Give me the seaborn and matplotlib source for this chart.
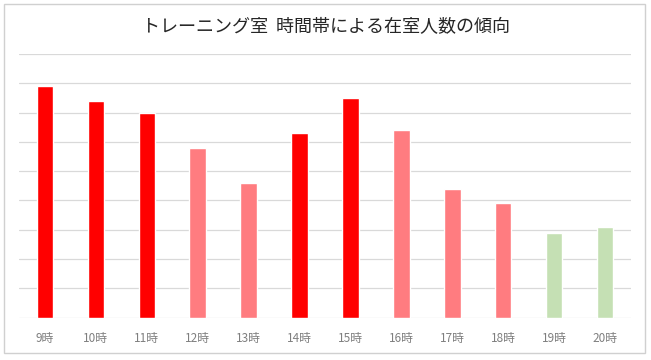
import matplotlib
matplotlib.use('Agg')
import matplotlib.pyplot as plt
import seaborn as sns
import pandas as pd
from matplotlib.patches import Rectangle

hours = ['9時', '10時', '11時', '12時', '13時', '14時', '15時', '16時', '17時', '18時', '19時', '20時']
people = [39.5, 37, 35, 29, 23, 31.5, 37.5, 32, 22, 19.5, 14.5, 15.5]
bar_colors = ['#FF0000', '#FF0000', '#FF0000', '#FF7C80', '#FF7C80', '#FF0000',
              '#FF0000', '#FF7C80', '#FF7C80', '#FF7C80', '#C5E0B4', '#C5E0B4']
title = 'トレーニング室  時間帯による在室人数の傾向'

sns.set_style('white')
plt.rcParams['font.family'] = ['Noto Sans CJK JP', 'DejaVu Sans']

df = pd.DataFrame({'hour': hours, 'people': people})

fig = plt.figure(figsize=(6.51, 3.6), dpi=100)
ax = fig.add_axes([0.0297, 0.1175, 0.9391, 0.7325])

sns.barplot(data=df, x='hour', y='people', hue='hour', palette=bar_colors,
            width=0.32, legend=False, ax=ax, saturation=1)

ax.set_ylim(0, 45)
ax.set_xlim(-0.5, len(hours) - 0.5)
ax.set_yticks(range(0, 46, 5))
ax.yaxis.grid(True, color='#D9D9D9', linewidth=0.9)
ax.set_axisbelow(True)
ax.tick_params(axis='y', left=False, labelleft=False)
ax.tick_params(axis='x', bottom=False, labelsize=8.5, labelcolor='#7F7F7F', pad=7)
ax.set_xlabel('')
ax.set_ylabel('')
for s in ax.spines.values():
    s.set_visible(False)

fig.text(0.5, 0.924, title, ha='center', va='center', fontsize=13, color='#262626')

# chart area border
fig.patches.append(Rectangle((4 / 651, 7 / 360), 641 / 651, 349 / 360,
                             transform=fig.transFigure, fill=False,
                             edgecolor='#D0D0D0', linewidth=1))

plt.savefig('out.png', dpi=100)
plt.close()
